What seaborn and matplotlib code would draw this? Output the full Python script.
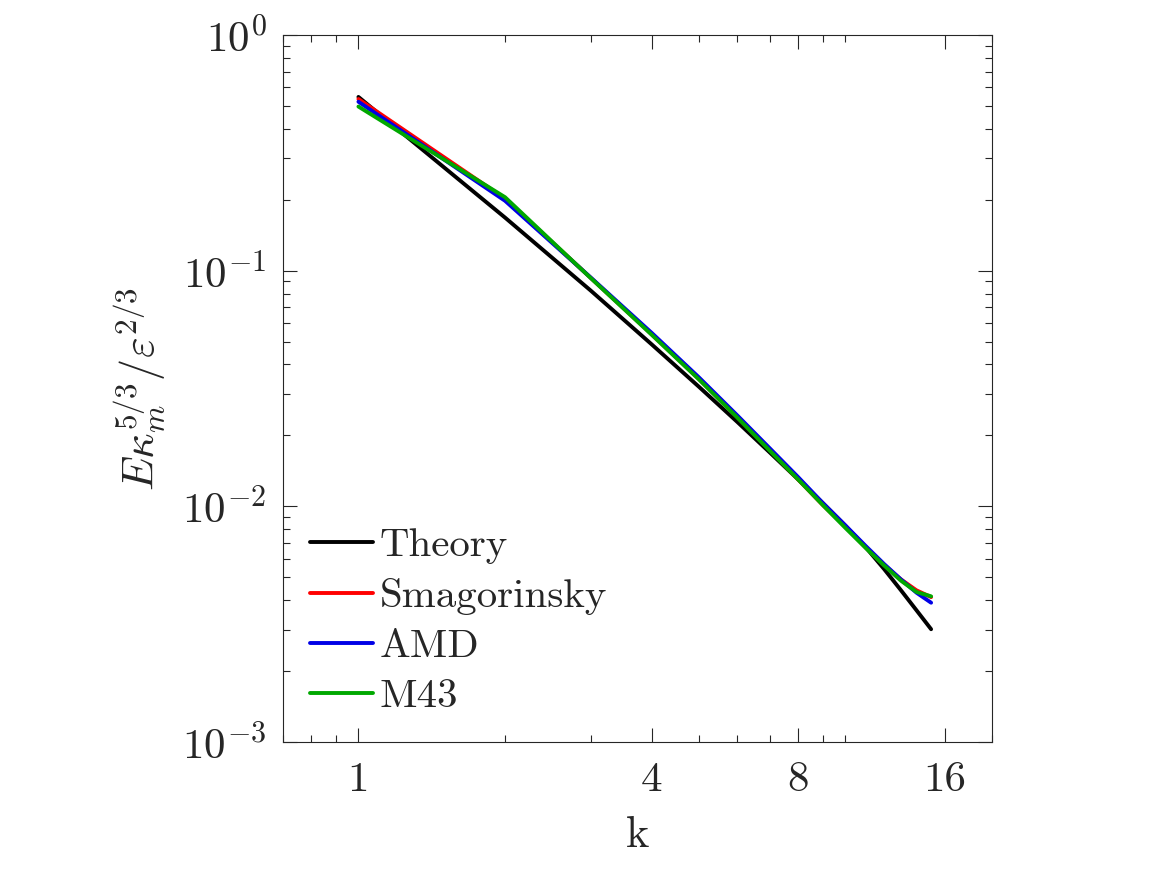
import numpy as np
import pandas as pd
import matplotlib
matplotlib.use("Agg")
import matplotlib.pyplot as plt
import matplotlib.ticker as mticker
import seaborn as sns

# wavenumbers and compensated spectra
k = [1, 2, 3, 4, 5, 6, 7, 8, 9, 10, 11, 12, 13, 14, 15]
theory = [0.546, 0.168, 0.0823, 0.0487, 0.0322, 0.0228, 0.0169, 0.0130,
          0.0103, 0.00828, 0.00672, 0.00543, 0.00441, 0.00362, 0.00301]
smagorinsky = [0.535, 0.202, 0.0932, 0.0538, 0.0348, 0.0239, 0.0173, 0.0130,
               0.0101, 0.0082, 0.0067, 0.00565, 0.0049, 0.0044, 0.00412]
amd = [0.521, 0.198, 0.0935, 0.0545, 0.0353, 0.0243, 0.0176, 0.0133,
       0.0103, 0.0083, 0.0068, 0.0057, 0.0049, 0.0043, 0.0039]
m43 = [0.497, 0.205, 0.0930, 0.0535, 0.0346, 0.0238, 0.0172, 0.0130,
       0.0101, 0.0081, 0.00667, 0.00562, 0.00484, 0.00433, 0.00415]

models = ["Theory", "Smagorinsky", "AMD", "M43"]
colors = ["#000000", "#ff0000", "#0000e6", "#00a800"]

x_major = [1, 4, 8, 16]
x_minor = [0.7, 0.8, 0.9, 2, 3, 5, 6, 7, 9, 10, 20]

rows = []
for name, vals in zip(models, [theory, smagorinsky, amd, m43]):
    for kk, v in zip(k, vals):
        rows.append({"k": kk, "E": v, "model": name})
df = pd.DataFrame(rows)

sns.set_style("ticks")
plt.rcParams["font.family"] = "serif"
plt.rcParams["font.serif"] = ["cmr10"]
plt.rcParams["mathtext.fontset"] = "cm"
plt.rcParams["axes.formatter.use_mathtext"] = True
plt.rcParams["axes.unicode_minus"] = True

ink = "#262626"

fig = plt.figure(figsize=(11.67, 8.75), dpi=100)
ax = fig.add_axes([0.2425, 0.152, 0.6075, 0.808])

sns.lineplot(data=df, x="k", y="E", hue="model", hue_order=models,
             palette=dict(zip(models, colors)), linewidth=2.8, ax=ax)

ax.set_xscale("log")
ax.set_yscale("log")
ax.set_xlim(0.7, 20)
ax.set_ylim(1e-3, 1)

ax.xaxis.set_major_locator(mticker.FixedLocator(x_major))
ax.xaxis.set_major_formatter(mticker.FixedFormatter([str(v) for v in x_major]))
ax.xaxis.set_minor_locator(mticker.FixedLocator(x_minor))
ax.xaxis.set_minor_formatter(mticker.NullFormatter())
ax.yaxis.set_major_locator(mticker.LogLocator(base=10, numticks=10))
ax.yaxis.set_major_formatter(mticker.LogFormatterMathtext())
ax.yaxis.set_minor_locator(mticker.LogLocator(base=10, subs=np.arange(2, 10), numticks=10))
ax.yaxis.set_minor_formatter(mticker.NullFormatter())

ax.tick_params(which="both", direction="in", top=True, right=True,
               bottom=True, left=True, color=ink, labelcolor=ink, width=0.8)
ax.tick_params(which="major", length=10, labelsize=31)
ax.tick_params(which="minor", length=5)
ax.tick_params(axis="x", which="major", pad=14)
ax.tick_params(axis="y", which="major", pad=12)
for s in ax.spines.values():
    s.set_color(ink)
    s.set_linewidth(0.8)

ax.set_xlabel("k", fontsize=32, color=ink, labelpad=12)
ax.set_ylabel(r"$E\kappa_m^{5/3}/\varepsilon^{2/3}$", fontsize=32, color=ink, labelpad=10)

ax.legend(loc="lower left", bbox_to_anchor=(0.0, 0.0), frameon=False,
          fontsize=29.5, handlelength=1.55, handletextpad=0.15, labelspacing=0.33,
          borderaxespad=0.25)
for line in ax.get_legend().get_lines():
    line.set_linewidth(2.8)

fig.savefig("out.png", dpi=100, facecolor="white")
